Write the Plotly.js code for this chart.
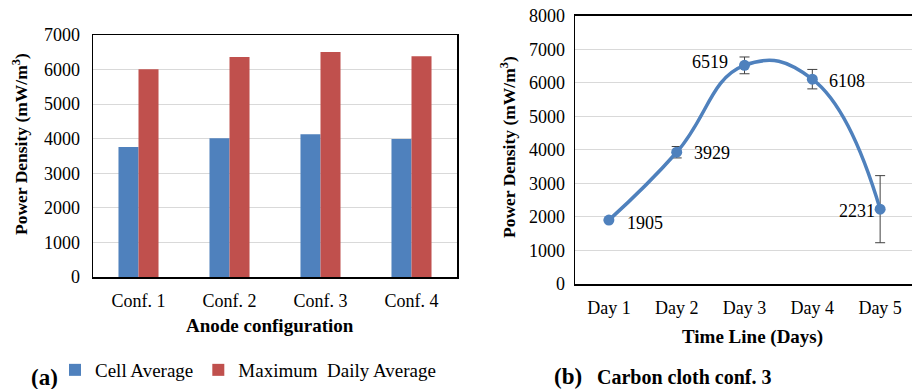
<!DOCTYPE html>
<html>
<head>
<meta charset="utf-8">
<script src="https://cdn.plot.ly/plotly-3.0.1.min.js"></script>
<style>html,body{margin:0;padding:0;background:#fff;}#chart{width:912px;height:389px;}</style>
</head>
<body>
<div id="chart"></div>
<script>
// (a) bar chart data
const confs = ["Conf. 1", "Conf. 2", "Conf. 3", "Conf. 4"];
const cellAverage = [3760, 4010, 4130, 3990];
const maxDailyAverage = [6010, 6365, 6510, 6385];

// (b) line chart data
const days = ["Day 1", "Day 2", "Day 3", "Day 4", "Day 5"];
const powerDensity = [1905, 3929, 6519, 6108, 2231];
const powerError = [0, 170, 250, 290, 1000];
const pointLabels = ["1905", "3929", "6519", "6108", "2231"];
// label offsets (pixels) relative to each point
const labelDX = [36, 35, -35, 35, -23];
const labelDY = [-3, -1, 3, -2, -2];

const W = 912, H = 389;
const px = v => v / W;
const py = v => (H - v) / H;

const FONT = "Liberation Serif, Times New Roman, serif";
const BLUE = "#4F81BD", RED = "#C0504D";
const TICK = 18;

const traces = [
  {type: "bar", x: confs, y: cellAverage, name: "Cell Average", marker: {color: BLUE}, xaxis: "x", yaxis: "y"},
  {type: "bar", x: confs, y: maxDailyAverage, name: "Maximum  Daily Average", marker: {color: RED}, xaxis: "x", yaxis: "y"},
  {type: "scatter", mode: "lines+markers", x: days, y: powerDensity,
   line: {color: BLUE, width: 3.5, shape: "spline", smoothing: 1.3},
   marker: {color: BLUE, size: 11},
   error_y: {type: "data", array: powerError, visible: true, color: "#404040", thickness: 1, width: 5},
   showlegend: false, xaxis: "x2", yaxis: "y2", cliponaxis: false}
];

const axisCommon = {
  showline: true, linecolor: "#000", linewidth: 1.5, mirror: true,
  ticks: "", tickfont: {family: FONT, size: TICK, color: "#000"},
  zeroline: false, fixedrange: true
};

const labelAnnotations = pointLabels.map((t, i) => ({
  text: t, xref: "x2", yref: "y2", x: days[i], y: powerDensity[i],
  showarrow: false, xshift: labelDX[i], yshift: labelDY[i],
  xanchor: "center", yanchor: "middle",
  font: {family: FONT, size: TICK, color: "#000"}
}));

const layout = {
  width: W, height: H,
  margin: {l: 0, r: 0, t: 0, b: 0},
  paper_bgcolor: "#fff", plot_bgcolor: "#fff",
  barmode: "group", bargap: 0.56, bargroupgap: 0,
  font: {family: FONT, color: "#000"},
  showlegend: true,
  legend: {orientation: "h", x: px(55), xanchor: "left", y: py(370), yanchor: "middle",
           font: {family: FONT, size: 19, color: "#000"}, bgcolor: "rgba(0,0,0,0)", traceorder: "normal"},
  xaxis: Object.assign({}, axisCommon, {domain: [px(93), px(457)], anchor: "y", type: "category",
           showgrid: false, ticklabelstandoff: 7}),
  yaxis: Object.assign({}, axisCommon, {domain: [py(277), py(35)], anchor: "x", range: [0, 7000],
           dtick: 1000, showgrid: true, gridcolor: "#D9D9D9", gridwidth: 1, ticklabelstandoff: 8}),
  xaxis2: Object.assign({}, axisCommon, {domain: [px(575), 1], anchor: "y2", type: "category",
           range: [-0.5, 4.47], showgrid: false, ticklabelstandoff: 7}),
  yaxis2: Object.assign({}, axisCommon, {domain: [py(284), py(15.7)], anchor: "x2", range: [0, 8000],
           dtick: 1000, showgrid: true, gridcolor: "#D9D9D9", gridwidth: 1, ticklabelstandoff: 5}),
  annotations: [
    {text: "<b>Power Density (mW/m<sup>3</sup>)</b>", xref: "paper", yref: "paper", x: px(20), y: py(144),
     textangle: -90, showarrow: false, font: {family: FONT, size: 17.5, color: "#000"}, xanchor: "center", yanchor: "middle"},
    {text: "<b>Anode configuration</b>", xref: "paper", yref: "paper", x: px(270), y: py(325),
     showarrow: false, font: {family: FONT, size: 19, color: "#000"}, xanchor: "center", yanchor: "middle"},
    {text: "<b>Power Density (mW/m<sup>3</sup>)</b>", xref: "paper", yref: "paper", x: px(508), y: py(147),
     textangle: -90, showarrow: false, font: {family: FONT, size: 17.5, color: "#000"}, xanchor: "center", yanchor: "middle"},
    {text: "<b>Time Line (Days)</b>", xref: "paper", yref: "paper", x: px(752), y: py(337),
     showarrow: false, font: {family: FONT, size: 19, color: "#000"}, xanchor: "center", yanchor: "middle"},
    {text: "<b>(a)</b>", xref: "paper", yref: "paper", x: px(44), y: py(377),
     showarrow: false, font: {family: FONT, size: 23, color: "#000"}, xanchor: "center", yanchor: "middle"},
    {text: "<b>(b)</b>", xref: "paper", yref: "paper", x: px(568), y: py(376),
     showarrow: false, font: {family: FONT, size: 23, color: "#000"}, xanchor: "center", yanchor: "middle"},
    {text: "<b>Carbon cloth conf. 3</b>", xref: "paper", yref: "paper", x: px(595), y: py(377),
     showarrow: false, font: {family: FONT, size: 20, color: "#000"}, xanchor: "left", yanchor: "middle"}
  ].concat(labelAnnotations)
};

Plotly.newPlot("chart", traces, layout, {staticPlot: true, displayModeBar: false});
</script>
</body>
</html>
